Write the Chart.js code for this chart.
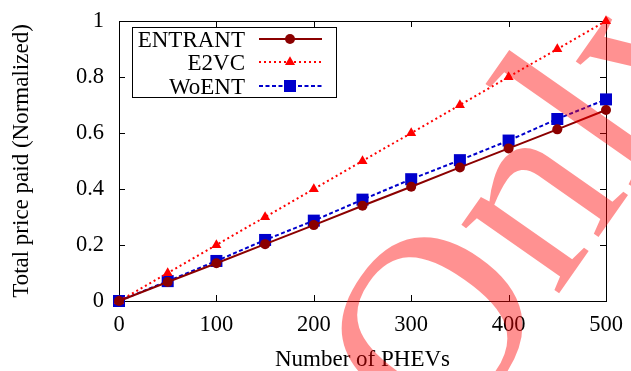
<!DOCTYPE html>
<html>
<head>
<meta charset="utf-8">
<script src="https://cdn.jsdelivr.net/npm/chart.js@4.4.1/dist/chart.umd.min.js"></script>
<style>
  html, body { margin: 0; padding: 0; background: #fff; }
  #wrap { width: 631px; height: 371px; position: relative; }
</style>
</head>
<body>
<div id="wrap"><canvas id="myChart"></canvas></div>
<script>
// values
const phevs = [0, 50, 100, 150, 200, 250, 300, 350, 400, 450, 500];
const entrant = [0, 0.068, 0.135, 0.203, 0.271, 0.34, 0.408, 0.477, 0.545, 0.613, 0.682];
const e2vc = [0, 0.1, 0.2, 0.3, 0.4, 0.5, 0.6, 0.7, 0.8, 0.9, 1.0];
const woent = [0, 0.071, 0.143, 0.218, 0.287, 0.362, 0.435, 0.503, 0.573, 0.65, 0.72];
const xTicks = [0, 100, 200, 300, 400, 500];
const yTicks = [0, 0.2, 0.4, 0.6, 0.8, 1];
const seriesNames = ['ENTRANT', 'E2VC', 'WoENT'];

const serif = "'Liberation Serif', 'Times New Roman', serif";

function toPoints(ys) {
    return phevs.map((x, i) => ({ x: x, y: ys[i] }));
}

// gnuplot style frame: full box with inward ticks on all four sides
const framePlugin = {
    id: 'frame',
    beforeDatasetsDraw(chart) {
        const ctx = chart.ctx;
        const a = chart.chartArea;
        const sx = chart.scales.x, sy = chart.scales.y;
        const len = 6;
        ctx.save();
        ctx.strokeStyle = '#000';
        ctx.lineWidth = 1;
        ctx.beginPath();
        xTicks.forEach(v => {
            const px = Math.round(sx.getPixelForValue(v)) + 0.5;
            ctx.moveTo(px, a.bottom); ctx.lineTo(px, a.bottom - len);
            ctx.moveTo(px, a.top); ctx.lineTo(px, a.top + len);
        });
        yTicks.forEach(v => {
            const py = Math.round(sy.getPixelForValue(v)) + 0.5;
            ctx.moveTo(a.left, py); ctx.lineTo(a.left + len, py);
            ctx.moveTo(a.right, py); ctx.lineTo(a.right - len, py);
        });
        ctx.stroke();
        ctx.strokeRect(Math.round(a.left) + 0.5, Math.round(a.top) + 0.5,
            Math.round(a.right - a.left), Math.round(a.bottom - a.top));
        ctx.restore();
    }
};

// boxed legend, text on the left and sample on the right
const keyPlugin = {
    id: 'key',
    afterDatasetsDraw(chart) {
        const ctx = chart.ctx;
        const box = { x: 132.5, y: 27.5, w: 204, h: 70 };
        const rows = [39, 62, 86];
        ctx.save();
        ctx.strokeStyle = '#000';
        ctx.lineWidth = 1;
        ctx.fillStyle = '#fff';
        ctx.fillRect(box.x, box.y, box.w, box.h);
        ctx.strokeRect(box.x, box.y, box.w, box.h);
        chart.data.datasets.forEach((ds, i) => {
            const y = rows[i];
            ctx.fillStyle = '#000';
            ctx.font = '23px ' + serif;
            ctx.textAlign = 'right';
            ctx.textBaseline = 'alphabetic';
            ctx.fillText(ds.label, 245, y + 8);
            ctx.strokeStyle = ds.borderColor;
            ctx.lineWidth = ds.borderWidth;
            ctx.setLineDash(ds.borderDash || []);
            ctx.beginPath();
            ctx.moveTo(259, y); ctx.lineTo(322, y);
            ctx.stroke();
            ctx.setLineDash([]);
            ctx.fillStyle = ds.pointBackgroundColor;
            ctx.strokeStyle = ds.borderColor;
            Chart.helpers.drawPoint(ctx, {
                pointStyle: ds.pointStyle, radius: ds.pointRadius, borderWidth: 0
            }, 290, y);
        });
        ctx.restore();
    }
};

const stampPlugin = {
    id: 'stamp',
    afterDraw(chart) {
        const ctx = chart.ctx;
        ctx.save();
        ctx.translate(448, 452);
        ctx.rotate(-55 * Math.PI / 180);
        ctx.font = '260px ' + serif;
        ctx.fillStyle = 'rgba(255, 0, 0, 0.43)';
        ctx.textAlign = 'left';
        ctx.textBaseline = 'alphabetic';
        ctx.fillText('Only', 0, 0);
        ctx.restore();
    }
};

const myChartRef = document.getElementById('myChart').getContext('2d');
new Chart(myChartRef, {
    type: 'line',
    data: {
        datasets: [
            {
                label: seriesNames[0],
                data: toPoints(entrant),
                borderColor: '#8b0000',
                backgroundColor: '#8b0000',
                pointBackgroundColor: '#8b0000',
                borderWidth: 2,
                pointStyle: 'circle',
                pointRadius: 5,
                pointBorderWidth: 0
            },
            {
                label: seriesNames[1],
                data: toPoints(e2vc),
                borderColor: '#ff0000',
                backgroundColor: '#ff0000',
                pointBackgroundColor: '#ff0000',
                borderWidth: 2,
                borderDash: [2, 3],
                pointStyle: 'triangle',
                pointRadius: 5.8,
                pointBorderWidth: 0
            },
            {
                label: seriesNames[2],
                data: toPoints(woent),
                borderColor: '#0000cc',
                backgroundColor: '#0000cc',
                pointBackgroundColor: '#0000cc',
                borderWidth: 2,
                borderDash: [4, 2.5],
                pointStyle: 'rect',
                pointRadius: 8.5,
                pointBorderWidth: 0
            }
        ]
    },
    options: {
        responsive: true,
        maintainAspectRatio: false,
        animation: false,
        devicePixelRatio: 1,
        layout: { autoPadding: false, padding: { left: 0, top: 21, right: 25, bottom: 0 } },
        elements: { line: { tension: 0, fill: false } },
        datasets: { line: { clip: false } },
        plugins: {
            legend: { display: false },
            tooltip: { enabled: false }
        },
        scales: {
            x: {
                type: 'linear',
                min: 0,
                max: 500,
                afterFit(scale) { scale.height = 70; },
                afterBuildTicks(scale) { scale.ticks = xTicks.map(v => ({ value: v })); },
                // label gap comes from an invisible tick length so the scale adds no extra padding
                grid: { display: false, drawTicks: true, tickLength: 11 },
                border: { display: false },
                ticks: {
                    color: '#000',
                    padding: 0,
                    font: { family: serif, size: 22.5 }
                },
                title: {
                    display: true,
                    text: 'Number of PHEVs',
                    color: '#000',
                    padding: { top: 0, bottom: -3 },
                    font: { family: serif, size: 23 }
                }
            },
            y: {
                min: 0,
                max: 1,
                afterFit(scale) { scale.width = 119; },
                afterBuildTicks(scale) { scale.ticks = yTicks.map(v => ({ value: v })); },
                grid: { display: false, drawTicks: true, tickLength: 15 },
                border: { display: false },
                ticks: {
                    color: '#000',
                    padding: 0,
                    font: { family: serif, size: 22.5 },
                    callback: v => String(Number(v.toFixed(1)))
                },
                title: {
                    display: true,
                    text: 'Total price paid (Normalized)',
                    color: '#000',
                    padding: { top: 8, bottom: 0 },
                    font: { family: serif, size: 23 }
                }
            }
        }
    },
    plugins: [framePlugin, keyPlugin, stampPlugin]
});
</script>
</body>
</html>
